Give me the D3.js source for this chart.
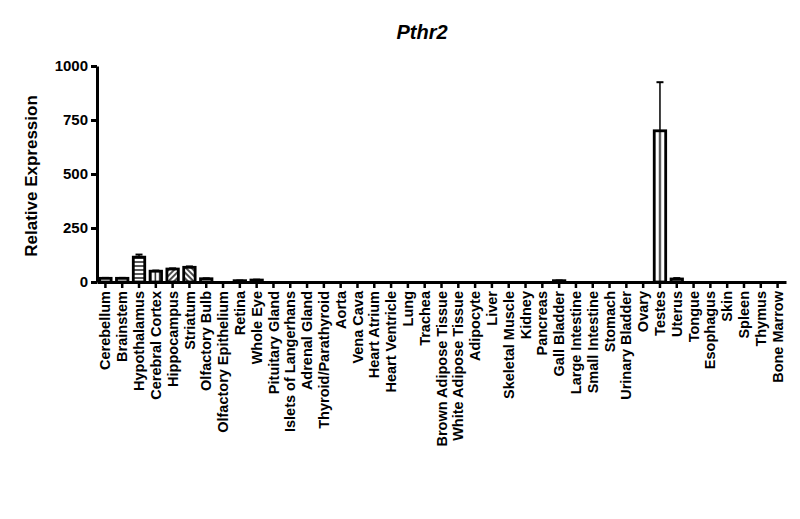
<!DOCTYPE html>
<html><head><meta charset="utf-8">
<script src="https://cdn.jsdelivr.net/npm/d3@7"></script>
<style>body{margin:0;background:#fff}svg{font-family:"Liberation Sans",Arial,sans-serif}</style>
</head><body><svg id="c" width="800" height="519"></svg>
<script>
const categories = ["Cerebellum","Brainstem","Hypothalamus","Cerebral Cortex","Hippocampus","Striatum","Olfactory Bulb","Olfactory Epithelium","Retina","Whole Eye","Pituitary Gland","Islets of Langerhans","Adrenal Gland","Thyroid/Parathyroid","Aorta","Vena Cava","Heart Atrium","Heart Ventricle","Lung","Trachea","Brown Adipose Tissue","White Adipose Tissue","Adipocyte","Liver","Skeletal Muscle","Kidney","Pancreas","Gall Bladder","Large Intestine","Small Intestine","Stomach","Urinary Bladder","Ovary","Testes","Uterus","Tongue","Esophagus","Skin","Spleen","Thymus","Bone Marrow"];
const values = [17,17,115,50,60,68,15,0,6,9,0,0,0,0,0,0,0,0,0,0,0,0,0,0,0,0,0,6,0,0,0,0,0,700,14,0,0,0,0,0,0];
const errors = [2,2,12,3,3,4,2,0,1,2,0,0,0,0,0,0,0,0,0,0,0,0,0,0,0,0,0,1,0,0,0,0,0,225,4,0,0,0,0,0,0];
const fills = ["none","none","hstripe","vstripe","diag1","diag2","none","none","none","none","none","none","none","none","none","none","none","none","none","none","none","none","none","none","none","none","none","none","none","none","none","none","none","cline","none","none","none","none","none","none","none"];
const yTicks = [0,250,500,750,1000];

const svg = d3.select("#c");
const x = d3.scaleBand().domain(categories).range([97,786]).paddingInner(0.2).paddingOuter(0.1);
const y = d3.scaleLinear().domain([0,1000]).range([282,66]);

const defs = svg.append("defs");
function pat(id, w, h, draw, rot, px){
  const p = defs.append("pattern").attr("id",id).attr("patternUnits","userSpaceOnUse").attr("width",w).attr("height",h);
  if(rot) p.attr("patternTransform","rotate("+rot+")");
  if(px!==undefined) p.attr("x",px);
  p.append("rect").attr("width",w).attr("height",h).attr("fill","#fff");
  draw(p);
}
pat("hstripe",4,4,p=>p.append("line").attr("x1",0).attr("x2",4).attr("y1",2).attr("y2",2).attr("stroke","#000").attr("stroke-width",1.3));
pat("vstripe",4.5,4,p=>p.append("line").attr("x1",2.25).attr("x2",2.25).attr("y1",0).attr("y2",4).attr("stroke","#000").attr("stroke-width",1.3));
pat("diag1",4,4,p=>p.append("line").attr("x1",2).attr("x2",2).attr("y1",0).attr("y2",4).attr("stroke","#000").attr("stroke-width",1.4),45);
pat("diag2",4,4,p=>p.append("line").attr("x1",2).attr("x2",2).attr("y1",0).attr("y2",4).attr("stroke","#000").attr("stroke-width",1.4),-45);
const st = x.step();
pat("cline",st,4,p=>p.append("line").attr("x1",st/2).attr("x2",st/2).attr("y1",0).attr("y2",4).attr("stroke","#000").attr("stroke-width",1.6),0,x(categories[0])+x.bandwidth()/2-st/2);

// error bars
const eb = svg.append("g");
categories.forEach((c,i)=>{
  if(errors[i]<=0) return;
  const cx = x(c)+x.bandwidth()/2;
  eb.append("line").attr("x1",cx).attr("x2",cx).attr("y1",y(values[i])).attr("y2",y(values[i]+errors[i])).attr("stroke","#000").attr("stroke-width",1.5);
  eb.append("line").attr("x1",cx-3.5).attr("x2",cx+3.5).attr("y1",y(values[i]+errors[i])).attr("y2",y(values[i]+errors[i])).attr("stroke","#000").attr("stroke-width",2);
});

// bars
svg.append("g").selectAll("rect").data(categories).join("rect")
  .attr("x",d=>x(d)+1)
  .attr("width",x.bandwidth()-2)
  .attr("y",(d,i)=>y(values[i]))
  .attr("height",(d,i)=>Math.max(0,y(0)-y(values[i])))
  .attr("fill",(d,i)=>fills[i]==="none"?"#fff":"url(#"+fills[i]+")")
  .attr("stroke","#000").attr("stroke-width",2.8)
  .attr("display",(d,i)=>values[i]>0?null:"none");

// axes
const yAxis = svg.append("g").attr("transform","translate(97,0)")
  .call(d3.axisLeft(y).tickValues(yTicks).tickFormat(d3.format("d")).tickSize(6).tickSizeOuter(0).tickPadding(3));
yAxis.select(".domain").attr("stroke-width",3);
yAxis.selectAll(".tick line").attr("stroke-width",3);
yAxis.selectAll("text").attr("font-size",15).attr("font-weight","bold").attr("fill","#000");

const xAxis = svg.append("g").attr("transform","translate(0,282)")
  .call(d3.axisBottom(x).tickSize(6).tickSizeOuter(0).tickPadding(3));
xAxis.select(".domain").attr("stroke-width",3);
xAxis.selectAll(".tick line").attr("stroke-width",2.5);
xAxis.selectAll("text").attr("font-size",14.5).attr("font-weight","bold").attr("fill","#000")
  .attr("transform","rotate(-90)").attr("text-anchor","end").attr("y",0).attr("x",-9)
  .attr("dy","0.35em");

svg.append("text").attr("transform","translate(37,176) rotate(-90)").attr("text-anchor","middle")
  .attr("font-size",17).attr("font-weight","bold").text("Relative Expression");
svg.append("text").attr("x",422).attr("y",39).attr("text-anchor","middle")
  .attr("font-size",20).attr("font-weight","bold").attr("font-style","italic").text("Pthr2");
</script></body></html>
